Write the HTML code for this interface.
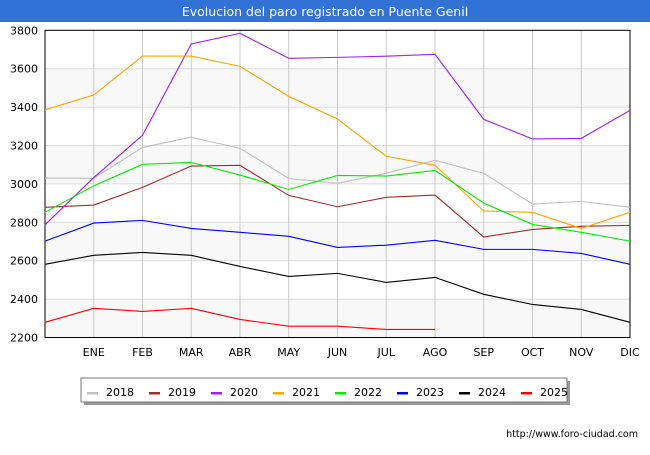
<!DOCTYPE html>
<html><head><meta charset="utf-8"><style>
body{margin:0;width:650px;height:450px;background:#fff;overflow:hidden;font-family:"Liberation Sans","DejaVu Sans",sans-serif}
</style></head><body>
<svg width="650" height="450" xmlns="http://www.w3.org/2000/svg" font-family="DejaVu Sans, Liberation Sans, sans-serif">
<rect x="0" y="0" width="650" height="22" fill="#3272d6"/>
<text x="325" y="16" text-anchor="middle" fill="#fff" font-size="12.5">Evolucion del paro registrado en Puente Genil</text>
<g id="plot"></g>
<g>
<rect x="84" y="381" width="486" height="24" fill="#999"/>
<rect x="81" y="378" width="486" height="24" fill="#fff" stroke="#777"/>
<g id="leg"></g>
</g>
<text x="638" y="437" text-anchor="end" font-size="9.5" fill="#000">http://www.foro-ciudad.com</text>
</svg>
<script>
const months=["","ENE","FEB","MAR","ABR","MAY","JUN","JUL","AGO","SEP","OCT","NOV","DIC"];
const yTicks=[2200,2400,2600,2800,3000,3200,3400,3600,3800];
const years=["2018","2019","2020","2021","2022","2023","2024","2025"];
const colors=["#c0c0c0","#a52a2a","#a020f0","#ffa500","#00ee00","#0000ff","#000000","#ff0000"];
const s2018=[3030,3030,3190,3243,3185,3028,3003,3055,3123,3055,2895,2909,2878];
const s2019=[2878,2890,2982,3093,3097,2940,2881,2930,2942,2723,2763,2779,2784];
const s2020=[2787,3033,3253,3729,3784,3654,3659,3665,3675,3336,3234,3237,3383];
const s2021=[3386,3463,3666,3666,3612,3456,3338,3144,3097,2859,2852,2768,2852];
const s2022=[2852,2990,3102,3112,3046,2971,3044,3041,3070,2900,2789,2748,2702];
const s2023=[2702,2796,2810,2768,2748,2727,2669,2681,2706,2659,2659,2638,2581];
const s2024=[2581,2628,2643,2628,2570,2518,2534,2487,2513,2425,2372,2346,2279];
const s2025=[2279,2352,2336,2352,2294,2259,2259,2242,2242];
const series=[s2018,s2019,s2020,s2021,s2022,s2023,s2024,s2025];
const X0=45,X1=630,Y0=337.5,Y1=30.3,VMIN=2200,VMAX=3800;
const xs=i=>X0+i*(X1-X0)/(months.length-1);
const ys=v=>Y0-(v-VMIN)*(Y0-Y1)/(VMAX-VMIN);
const NS="http://www.w3.org/2000/svg";
const plot=document.getElementById('plot');
function mk(tag,attrs,parent){const e=document.createElementNS(NS,tag);for(const k in attrs)e.setAttribute(k,attrs[k]);(parent||plot).appendChild(e);return e;}
for(let k=0;k<yTicks.length-1;k++){
  if(k%2===0){const r=mk('rect',{x:X0,y:ys(yTicks[k+1]),width:X1-X0,height:ys(yTicks[k])-ys(yTicks[k+1]),fill:'#f8f8f8'});
  
  }
}
yTicks.forEach(v=>{
  const l=mk('line',{x1:X0,x2:X1,y1:ys(v),y2:ys(v),stroke:'#dcdcdc','stroke-width':1});
  
  
  const t=mk('text',{x:38,y:ys(v)+4,'text-anchor':'end','font-size':11,fill:'#000'});
  t.textContent=v;
  
  
});
months.forEach((m,i)=>{
  if(i>0){const l=mk('line',{x1:xs(i),x2:xs(i),y1:Y1,y2:Y0,stroke:'#c8c8c8','stroke-width':1});
  
  }
  if(m){const t=mk('text',{x:xs(i),y:356,'text-anchor':'middle','font-size':11,fill:'#000'});
  t.textContent=m;
  
  }
});
const fr=mk('rect',{x:X0,y:Y1,width:X1-X0,height:Y0-Y1,fill:'none',stroke:'#000','stroke-width':1});


series.forEach((s,j)=>{
  const p=mk('polyline',{points:s.map((v,i)=>xs(i)+','+ys(v)).join(' '),fill:'none',stroke:colors[j],'stroke-width':1.1});
  
  
});
const leg=document.getElementById('leg');
years.forEach((y,j)=>{
  const x=87+j*62;
  const sw=mk('rect',{x:x,y:392,width:11,height:2.5,fill:colors[j]},leg);
  
  
  const t=mk('text',{x:x+19,y:396,'font-size':11,fill:'#000'},leg);
  t.textContent=y;
  
  
});
</script>
</body></html>
